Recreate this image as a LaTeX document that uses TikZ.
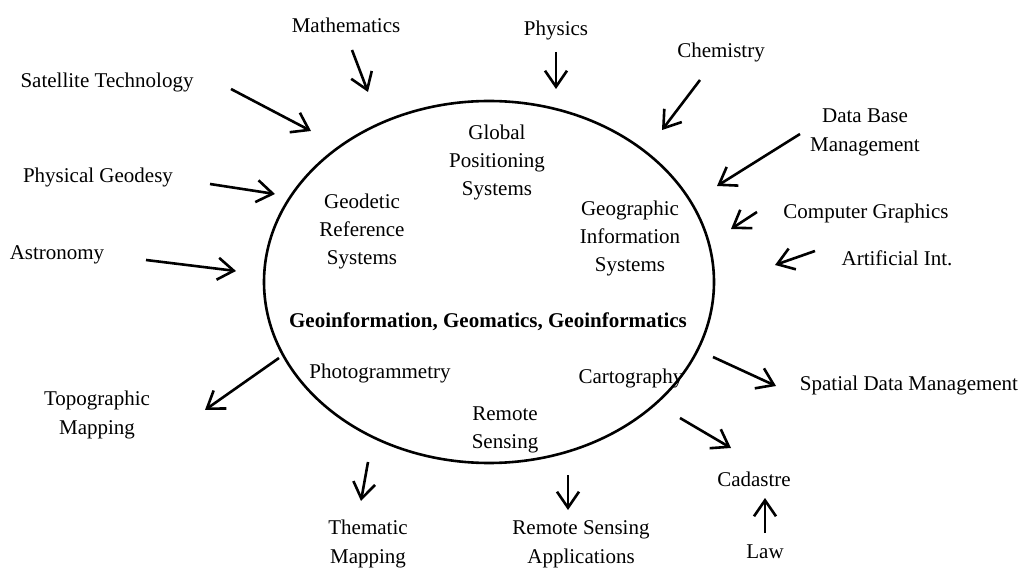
\documentclass[tikz,border=0pt]{standalone}
\usepackage{fontspec}
\setmainfont{Liberation Serif}
\usetikzlibrary{arrows.meta,shapes.geometric}
\begin{document}
\begin{tikzpicture}[x=1pt,y=-1pt,
  lbl/.style={inner sep=0pt,align=center,font=\fontsize{21}{29}\selectfont},
  inlbl/.style={inner sep=0pt,align=center,font=\fontsize{21}{28}\selectfont},
  arr/.style={line width=2.6pt,-{Straight Barb[length=16pt,width=22pt,line width=2.6pt]}},
  ring/.style={line width=2.6pt}]
\useasboundingbox (0,0) rectangle (1021,569);
% central ellipse
\node[ring,draw,ellipse,minimum width=450pt,minimum height=362pt,inner sep=0pt] (core) at (489,282) {};
% inner labels
\node[inlbl] (gps) at (497,162) {Global\\Positioning\\Systems};
\node[inlbl] (grs) at (362,231) {Geodetic\\Reference\\Systems};
\node[inlbl] (gis) at (630,238) {Geographic\\Information\\Systems};
\node[inlbl,font=\fontsize{21}{28}\selectfont\bfseries] (geo) at (488,322) {Geoinformation, Geomatics, Geoinformatics};
\node[inlbl] (pho) at (380,373) {Photogrammetry};
\node[inlbl] (car) at (631,378) {Cartography};
\node[inlbl] (rs) at (505,430) {Remote\\Sensing};
% outer labels
\node[lbl] (math) at (346,25) {Mathematics};
\node[lbl] (phys) at (556,30) {Physics};
\node[lbl] (chem) at (721,52) {Chemistry};
\node[lbl] (sat) at (107,82) {Satellite Technology};
\node[lbl] (dbm) at (865,132) {Data Base\\Management};
\node[lbl] (pgd) at (98,177) {Physical Geodesy};
\node[lbl] (cg) at (866,213) {Computer Graphics};
\node[lbl] (ast) at (57,255) {Astronomy};
\node[lbl] (ai) at (897,258) {Artificial Int.};
\node[lbl] (sdm) at (909,385) {Spatial Data Management};
\node[lbl] (topo) at (97,415) {Topographic\\Mapping};
\node[lbl] (cad) at (754,479) {Cadastre};
\node[lbl] (law) at (765,552) {Law};
\node[lbl] (them) at (368,544) {Thematic\\Mapping};
\node[lbl] (rsa) at (581,544) {Remote Sensing\\Applications};
% arrow end points
\coordinate (mathA) at (352,50);  \coordinate (mathB) at (368,92);
\coordinate (physA) at (556,52);  \coordinate (physB) at (556,89);
\coordinate (chemA) at (700,80);  \coordinate (chemB) at (662,130);
\coordinate (satA) at (231,89);   \coordinate (satB) at (311,131);
\coordinate (dbmA) at (800,134);  \coordinate (dbmB) at (717,186);
\coordinate (cgA) at (757,212);   \coordinate (cgB) at (731,229);
\coordinate (aiA) at (815,251);   \coordinate (aiB) at (775,265);
\coordinate (pgdA) at (210,184);  \coordinate (pgdB) at (275,194);
\coordinate (astA) at (146,260);  \coordinate (astB) at (236,271);
\coordinate (sdmA) at (713,357);  \coordinate (sdmB) at (776,386);
\coordinate (cadA) at (680,418);  \coordinate (cadB) at (731,448);
\coordinate (lawA) at (765,533);  \coordinate (lawB) at (765,498);
\coordinate (topoA) at (279,358); \coordinate (topoB) at (205,410);
\coordinate (themA) at (368,462); \coordinate (themB) at (361,501);
\coordinate (rsaA) at (568,475);  \coordinate (rsaB) at (568,510);
\foreach \n in {math,phys,chem,sat,dbm,cg,ai,pgd,ast,sdm,cad,law,topo,them,rsa}
  \draw[arr] (\n A) -- (\n B);
\end{tikzpicture}
\end{document}
